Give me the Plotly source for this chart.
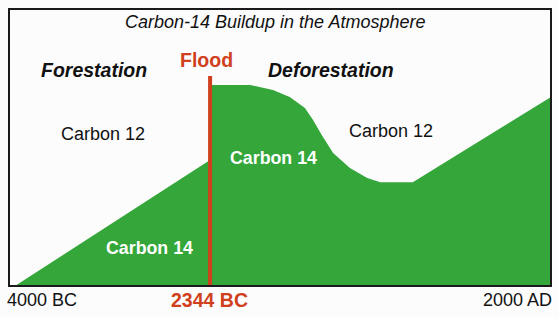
import plotly.graph_objects as go

# Relative time axis (0 = left edge, 100 = right edge) and C-14 level (0-100)
green_x = [1.1, 37.1, 37.1, 44.5, 48.7, 51.8, 54.6, 56.1, 57.7, 59.8, 62.9, 66.1, 68.5, 74.5, 100.0]
green_y = [0.0, 45.5, 72.6, 72.6, 70.8, 68.2, 64.3, 59.9, 54.5, 48.0, 42.6, 39.0, 37.5, 37.5, 68.2]
flood_x = 37.1
flood_top = 75.8

W, H = 559, 317
L, R, T, B = 9, 551, 9, 286

def px(x):
    return (x - L) / (R - L)

def py(y):
    return (B - y) / (B - T)

GREEN = "#34a63a"
RED = "#d0401c"
FONT = "Liberation Sans, Arial, sans-serif"

fig = go.Figure()
fig.add_trace(go.Scatter(x=green_x, y=green_y, mode="lines", fill="tozeroy",
                         fillcolor=GREEN, line=dict(width=0, color=GREEN),
                         hoverinfo="skip", showlegend=False))
fig.add_trace(go.Scatter(x=[flood_x, flood_x], y=[0, flood_top], mode="lines",
                         line=dict(width=4, color=RED), hoverinfo="skip", showlegend=False))

texts = [
    ("<i>Carbon-14 Buildup in the Atmosphere</i>", 275.5, 22, 18, "#111", False),
    ("<b><i>Forestation</i></b>", 93.5, 70, 19.5, "#111", False),
    ("<b><i>Deforestation</i></b>", 330.5, 70, 19.5, "#111", False),
    ("<b>Flood</b>", 206.5, 60, 19.5, RED, False),
    ("Carbon 12", 103, 134, 18, "#111", False),
    ("Carbon 12", 390.5, 131, 18, "#111", False),
    ("<b>Carbon 14</b>", 273.5, 158, 17.8, "white", False),
    ("<b>Carbon 14</b>", 150, 248, 17.8, "white", False),
    ("4000 BC", 42, 299.5, 18, "#111", False),
    ("<b>2344 BC</b>", 209.5, 299.5, 19.5, RED, False),
    ("2000 AD", 517.5, 299.5, 18, "#111", False),
]
for t, x, y, s, c, _ in texts:
    fig.add_annotation(text=t, x=px(x), y=py(y), xref="paper", yref="paper",
                       xanchor="center", yanchor="middle", showarrow=False,
                       font=dict(family=FONT, size=s, color=c))

fig.add_shape(type="rect", xref="paper", yref="paper", x0=0, y0=0, x1=1, y1=1,
              line=dict(color="#1a1a1a", width=2), layer="above")

fig.update_xaxes(range=[0, 100], visible=False, fixedrange=True)
fig.update_yaxes(range=[0, 100], visible=False, fixedrange=True)
fig.update_layout(width=W, height=H, margin=dict(l=L, r=W - R, t=T, b=H - B),
                  paper_bgcolor="#fcfcfc", plot_bgcolor="#fcfcfc")

fig.write_html("out.html", config={"displayModeBar": False})
